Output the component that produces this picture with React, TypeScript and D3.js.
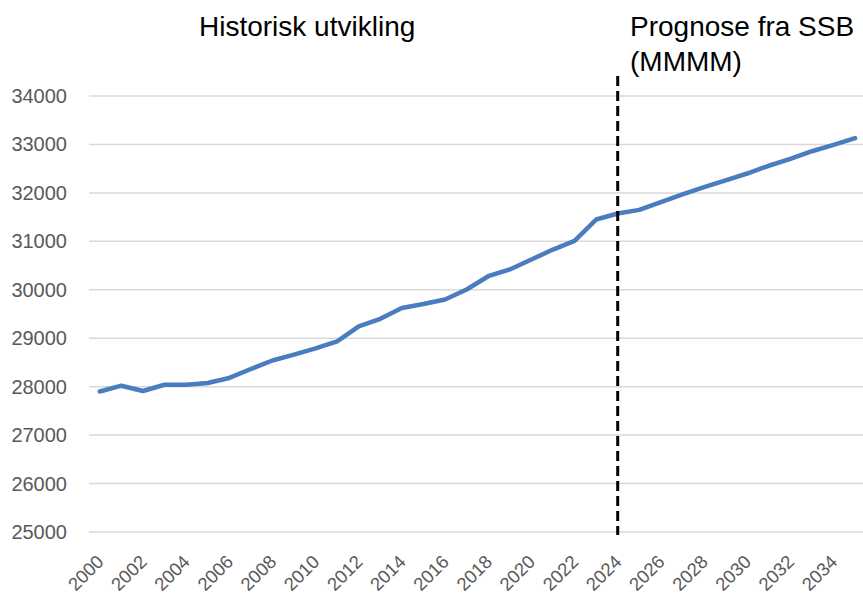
import React from "react";
import * as d3 from "d3";

const years: number[] = [
  2000, 2001, 2002, 2003, 2004, 2005, 2006, 2007, 2008, 2009,
  2010, 2011, 2012, 2013, 2014, 2015, 2016, 2017, 2018, 2019,
  2020, 2021, 2022, 2023, 2024, 2025, 2026, 2027, 2028, 2029,
  2030, 2031, 2032, 2033, 2034, 2035,
];
const values: number[] = [
  27900, 28020, 27910, 28040, 28040, 28075, 28180, 28365, 28540, 28660,
  28790, 28935, 29245, 29400, 29625, 29707, 29800, 30005, 30280, 30420,
  30625, 30830, 31010, 31450, 31575, 31650, 31810, 31970, 32120, 32260,
  32400, 32560, 32700, 32860, 32990, 33130,
];
const yTicks: number[] = [25000, 26000, 27000, 28000, 29000, 30000, 31000, 32000, 33000, 34000];
const xTickYears: number[] = years.filter((y) => y % 2 === 0 && y <= 2034);
const dividerYear = 2024;
const leftTitle = "Historisk utvikling";
const rightTitle = ["Prognose fra SSB", "(MMMM)"];

const W = 863;
const H = 597;

export default function App() {
  const x = d3
    .scaleBand<number>()
    .domain(years)
    .range([89, 89 + years.length * 21.58])
    .paddingInner(0)
    .paddingOuter(0);
  const cx = (yr: number) => (x(yr) as number) + x.bandwidth() / 2;
  const y = d3.scaleLinear().domain([25000, 34000]).range([532, 96]);

  const line = d3
    .line<number>()
    .x((_, i) => cx(years[i]))
    .y((d) => y(d));

  const labelFont = "'Liberation Sans', Arial, sans-serif";
  const titleFont = "'Liberation Sans', Arial, sans-serif";

  return (
    <div style={{ position: "absolute", left: 0, top: 0 }}>
      <svg width={W} height={H} style={{ display: "block", background: "#fff" }}>
        {yTicks.map((t) => (
          <g key={t}>
            <line x1={89} x2={x.range()[1]} y1={y(t)} y2={y(t)} stroke="#d9d9d9" strokeWidth={1.5} />
            <text
              x={67}
              y={y(t)}
              dy="0.35em"
              textAnchor="end"
              fontFamily={labelFont}
              fontSize={20}
              fill="#595959"
            >
              {t}
            </text>
          </g>
        ))}
        {xTickYears.map((yr) => (
          <text
            key={yr}
            transform={`translate(${cx(yr) + 5},${563}) rotate(-45)`}
            textAnchor="end"
            fontFamily={labelFont}
            fontSize={18.5}
            fill="#595959"
          >
            {yr}
          </text>
        ))}
        <path
          d={line(values) || ""}
          fill="none"
          stroke="#4a7cc0"
          strokeWidth={4.5}
          strokeLinejoin="round"
          strokeLinecap="round"
        />
        <line
          x1={cx(dividerYear)}
          x2={cx(dividerYear)}
          y1={76}
          y2={535}
          stroke="#000"
          strokeWidth={3}
          strokeDasharray="10,5"
        />
        <text x={199} y={36} fontFamily={titleFont} fontSize={28} fill="#000">
          {leftTitle}
        </text>
        {rightTitle.map((s, i) => (
          <text key={s} x={630} y={36 + i * 35} fontFamily={titleFont} fontSize={28} fill="#000">
            {s}
          </text>
        ))}
      </svg>
    </div>
  );
}
